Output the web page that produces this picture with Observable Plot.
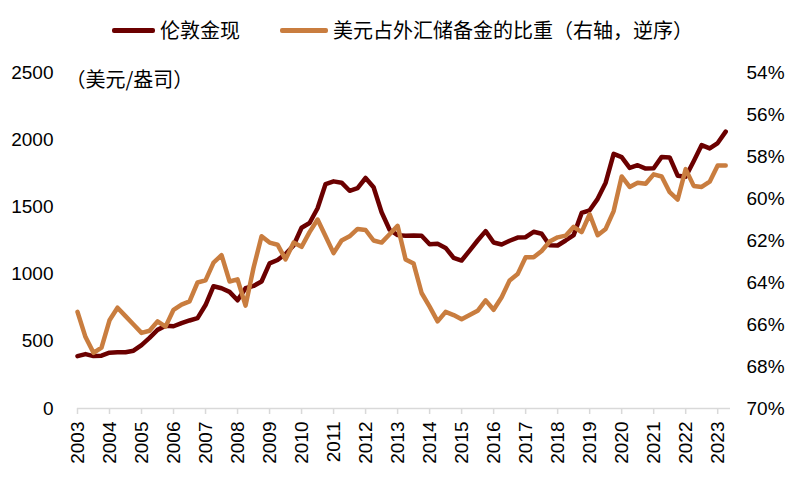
<!DOCTYPE html>
<html>
<head>
<meta charset="utf-8">
<script src="https://cdn.jsdelivr.net/npm/d3@7"></script>
<script src="https://cdn.jsdelivr.net/npm/@observablehq/plot@0.6"></script>
<style>
  body { margin: 0; background: #fff; }
  #wrap { position: relative; width: 808px; height: 490px; overflow: hidden; background: #fff; }
  .sw { position: absolute; height: 5px; border-radius: 2px; }
  .lt { position: absolute; font-family: "Noto Sans CJK SC", sans-serif; font-size: 20px; color: #000; line-height: 1; white-space: nowrap; }
  #chart { position: absolute; left: 0; top: 50px; }
</style>
</head>
<body>
<div id="wrap">
  <div class="sw" id="sw0"></div><div class="lt" id="lt0"></div>
  <div class="sw" id="sw1"></div><div class="lt" id="lt1"></div>
  <div id="chart"></div>
</div>
<script>
// ---- data (quarterly, 2003Q1 .. 2023Q2) ----
const startYear = 2003;
const seriesNames = ["伦敦金现", "美元占外汇储备金的比重（右轴，逆序）"];
const seriesColors = ["#6b0000", "#c97d3f"];
const unitLabel = "（美元/盎司）";

const goldPrice = [
  390, 405, 390, 393,
  415, 419, 419, 430,
  472, 525, 585, 615,
  612, 635, 655, 672,
  770, 910, 895, 868,
  805, 895, 912, 945,
  1080, 1105, 1150, 1213,
  1345, 1380, 1490, 1670,
  1690, 1680, 1620, 1640,
  1715, 1646, 1460, 1330,
  1290, 1285, 1287, 1285,
  1222, 1225, 1195, 1121,
  1101, 1175, 1250, 1320,
  1235, 1220, 1248, 1272,
  1275, 1315, 1300, 1215,
  1213, 1250, 1290, 1455,
  1475, 1560, 1680, 1895,
  1870, 1790, 1810, 1785,
  1788, 1872, 1868, 1732,
  1725, 1840, 1960, 1935,
  1975, 2060
];

const usdShare = [
  65.4, 66.6, 67.35, 67.1,
  65.8, 65.2, 65.6, 66.0,
  66.4, 66.3, 65.85, 66.1,
  65.3, 65.05, 64.9, 64.0,
  63.9, 63.05, 62.7, 63.95,
  63.85, 65.1, 63.3, 61.8,
  62.1, 62.2, 62.9, 62.1,
  62.3, 61.6, 61.0, 61.8,
  62.6, 62.0, 61.8, 61.45,
  61.5, 62.0, 62.1, 61.7,
  61.3, 62.9, 63.1, 64.5,
  65.15, 65.85, 65.4, 65.55,
  65.75, 65.55, 65.35, 64.85,
  65.3, 64.7, 63.9, 63.6,
  62.8, 62.8, 62.5, 62.05,
  61.85, 61.77, 61.35, 61.6,
  60.75, 61.75, 61.45, 60.6,
  58.95, 59.45, 59.25, 59.3,
  58.85, 58.95, 59.7, 60.05,
  58.6, 59.4, 59.45, 59.2,
  58.43, 58.43
];

const yearTicks = [2003,2004,2005,2006,2007,2008,2009,2010,2011,2012,2013,2014,2015,2016,2017,2018,2019,2020,2021,2022,2023];
const leftTicks = [0, 500, 1000, 1500, 2000, 2500];
const rightTicks = [54, 56, 58, 60, 62, 64, 66, 68, 70];

// ---- dual-axis mapping: right axis (reversed) onto left scale ----
const leftMax = 2500, rMin = 54, rMax = 70;
const shareToY = s => (rMax - s) / (rMax - rMin) * leftMax;
const yToShare = y => rMax - y / leftMax * (rMax - rMin);

const rows = goldPrice.map((g, i) => ({
  t: startYear + i / 4,
  gold: g,
  share: usdShare[i]
}));

// ---- legend ----
const legendPos = [{sw: [112, 155], tx: 160}, {sw: [280, 328], tx: 333}];
seriesNames.forEach((name, i) => {
  const sw = document.getElementById("sw" + i);
  sw.style.left = legendPos[i].sw[0] + "px";
  sw.style.width = (legendPos[i].sw[1] - legendPos[i].sw[0]) + "px";
  sw.style.top = "28px";
  sw.style.background = seriesColors[i];
  const lt = document.getElementById("lt" + i);
  lt.textContent = name;
  lt.style.left = legendPos[i].tx + "px";
  lt.style.top = "20px";
});

const font = "'Liberation Sans', Arial, sans-serif";

const chart = Plot.plot({
  width: 808,
  height: 440,
  marginLeft: 77,
  marginRight: 78,
  marginTop: 22,
  marginBottom: 82,
  style: {fontFamily: font, fontSize: "19px", color: "#000", background: "transparent", overflow: "visible"},
  x: {domain: [2003, 2023.4], axis: null, label: null},
  y: {domain: [0, 2500], axis: null, label: null},
  marks: [
    Plot.ruleY([0], {stroke: "#d9d9d9", strokeWidth: 1.5}),
    Plot.axisX(yearTicks, {
      anchor: "bottom", tickSize: 6, stroke: "#d9d9d9", strokeWidth: 1.5,
      tickRotate: -90, tickPadding: 7, tickFormat: d => String(d),
      fill: "#000", fontSize: 19, label: null
    }),
    Plot.axisY(leftTicks, {
      anchor: "left", tickSize: 0, tickPadding: 24, tickFormat: d => String(d),
      fill: "#000", fontSize: 19, label: null
    }),
    Plot.axisY(rightTicks.map(shareToY), {
      anchor: "right", tickSize: 0, tickPadding: 16,
      tickFormat: v => Math.round(yToShare(v)) + "%",
      fill: "#000", fontSize: 19, label: null
    }),
    Plot.text([unitLabel], {
      frameAnchor: "top-left", dx: -12, textAnchor: "start",
      fontFamily: "'Noto Sans CJK SC', sans-serif", fontSize: 20, fill: "#000"
    }),
    Plot.line(rows, {x: "t", y: "gold", stroke: seriesColors[0], strokeWidth: 4.5, strokeLinejoin: "round"}),
    Plot.line(rows, {x: "t", y: d => shareToY(d.share), stroke: seriesColors[1], strokeWidth: 4.5, strokeLinejoin: "round"})
  ]
});
document.getElementById("chart").appendChild(chart);
</script>
</body>
</html>
